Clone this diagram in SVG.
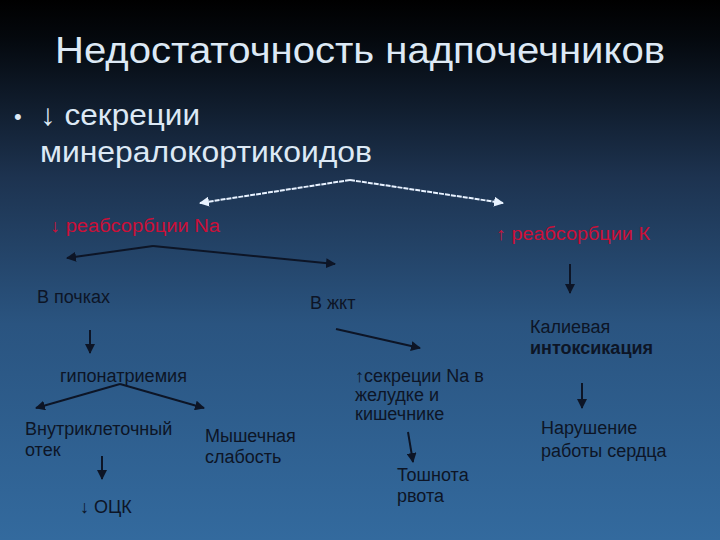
<svg xmlns="http://www.w3.org/2000/svg" width="720" height="540" viewBox="0 0 720 540">
<defs>
<linearGradient id="bg" x1="0" y1="0" x2="0" y2="1">
<stop offset="0" stop-color="#000000"/>
<stop offset="0.07" stop-color="#04080d"/>
<stop offset="0.33" stop-color="#1d3350"/>
<stop offset="0.6" stop-color="#2a5480"/>
<stop offset="1" stop-color="#336a9e"/>
</linearGradient>
<marker id="ad" viewBox="0 0 10 10" refX="9" refY="5" markerWidth="5" markerHeight="5" orient="auto"><path d="M0,0 L10,5 L0,10 z" fill="#0d1526"/></marker>
<marker id="aw" viewBox="0 0 10 10" refX="9" refY="5" markerWidth="5" markerHeight="5" orient="auto"><path d="M0,0 L10,5 L0,10 z" fill="#e8f2ff"/></marker>
</defs>
<style>
.t{font-family:"Liberation Sans",Arial,sans-serif;fill:#0d1526;font-size:18px}
.w{font-family:"Liberation Sans",Arial,sans-serif;fill:#dde9f5}
.r{font-family:"Liberation Sans",Arial,sans-serif;fill:#cc0f38;font-size:18px}
.cd{stroke:#0d1526;stroke-width:2;fill:none;marker-end:url(#ad)}
.cw{stroke:#e8f2ff;stroke-width:2;fill:none;stroke-dasharray:5 1;marker-end:url(#aw)}
</style>
<rect width="720" height="540" fill="url(#bg)"/>
<text class="w" x="360" y="63" font-size="36" text-anchor="middle" textLength="610" lengthAdjust="spacingAndGlyphs">Недостаточность надпочечников</text>
<text class="w" x="14" y="124" font-size="22">•</text>
<text class="w" x="40" y="125" font-size="30" textLength="160" lengthAdjust="spacingAndGlyphs">↓ секреции</text>
<text class="w" x="40" y="162" font-size="30" textLength="332" lengthAdjust="spacingAndGlyphs">минералокортикоидов</text>
<g id="connectors">
<path class="cw" d="M350,180 L200,203"/>
<path class="cw" d="M350,180 L503,203"/>
<path class="cd" d="M153,246 L67,258"/>
<path class="cd" d="M153,246 L335,264"/>
<path class="cd" d="M570,264 L570,293"/>
<path class="cd" d="M90,330 L90,353"/>
<path class="cd" d="M336,329 L420,348"/>
<path class="cd" d="M120,384 L36,408"/>
<path class="cd" d="M120,384 L204,408"/>
<path class="cd" d="M102,456 L102,479"/>
<path class="cd" d="M408,432 L413,462"/>
<path class="cd" d="M582,383 L582,408"/>
</g>
<g id="na"><text class="r" x="50" y="232" textLength="170" lengthAdjust="spacingAndGlyphs">↓ реабсорбции Na</text></g>
<g id="k"><text class="r" x="496" y="240" textLength="154" lengthAdjust="spacingAndGlyphs">↑ реабсорбции К</text></g>
<g id="kidneys"><text class="t" x="37" y="303">В почках</text></g>
<g id="gi"><text class="t" x="310" y="309">В жкт</text></g>
<g id="hypo"><text class="t" x="60" y="382" textLength="127" lengthAdjust="spacingAndGlyphs">гипонатриемия</text></g>
<g id="edema"><text class="t" x="25" y="435">Внутриклеточный</text><text class="t" x="25" y="456">отек</text></g>
<g id="muscle"><text class="t" x="205" y="442">Мышечная</text><text class="t" x="205" y="463">слабость</text></g>
<g id="ock"><text class="t" x="80" y="513">↓ ОЦК</text></g>
<g id="secretion"><text class="t" x="355" y="382">↑секреции Na в</text><text class="t" x="355" y="401">желудке и</text><text class="t" x="355" y="420">кишечнике</text></g>
<g id="nausea"><text class="t" x="397" y="481">Тошнота</text><text class="t" x="397" y="502">рвота</text></g>
<g id="kalium"><text class="t" x="530" y="333">Калиевая</text><text class="t" x="530" y="354" font-weight="bold">интоксикация</text></g>
<g id="heart"><text class="t" x="541" y="434">Нарушение</text><text class="t" x="541" y="457">работы сердца</text></g>
</svg>
